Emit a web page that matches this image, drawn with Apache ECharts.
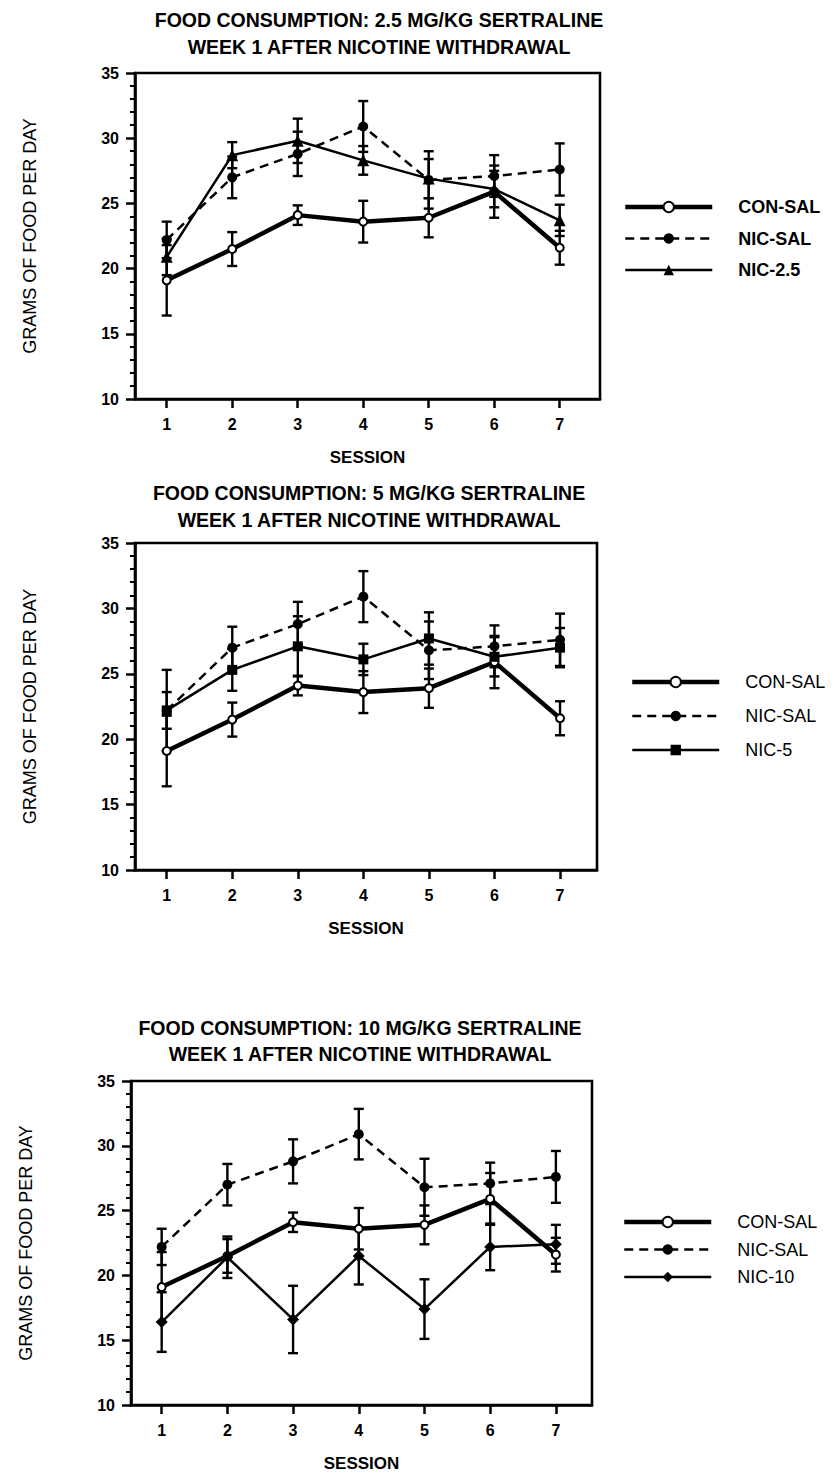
<!DOCTYPE html>
<html><head><meta charset="utf-8">
<script src="https://cdn.jsdelivr.net/npm/echarts@6/dist/echarts.min.js"></script>
<style>html,body{margin:0;padding:0;background:#fff}#c{width:834px;height:1477px}</style>
</head><body><div id="c"></div>
<script>
// ---- data ----
const sessions = [1, 2, 3, 4, 5, 6, 7];
const yTickValues = [10, 15, 20, 25, 30, 35];
const conSal    = [19.1, 21.5, 24.1, 23.6, 23.9, 25.9, 21.6];
const conSalErr = [2.7, 1.3, 0.75, 1.6, 1.5, 2.0, 1.3];
const nicSal    = [22.2, 27.0, 28.8, 30.9, 26.8, 27.1, 27.6];
const nicSalErr = [1.4, 1.6, 1.7, 1.95, 2.2, 1.6, 2.0];
const nic25     = [20.9, 28.7, 29.8, 28.3, 26.9, 26.1, 23.7];
const nic25Err  = [1.4, 1.0, 1.7, 1.1, 1.5, 1.4, 1.2];
const nic5      = [22.2, 25.3, 27.1, 26.1, 27.7, 26.3, 27.0];
const nic5Err   = [3.1, 1.6, 2.3, 1.2, 2.0, 1.5, 1.5];
const nic10     = [16.4, 21.4, 16.6, 21.5, 17.4, 22.2, 22.4];
const nic10Err  = [2.3, 1.6, 2.6, 2.2, 2.3, 1.8, 1.5];
const panelTitles = [
  'FOOD CONSUMPTION: 2.5 MG/KG SERTRALINE\nWEEK 1 AFTER NICOTINE WITHDRAWAL',
  'FOOD CONSUMPTION: 5 MG/KG SERTRALINE\nWEEK 1 AFTER NICOTINE WITHDRAWAL',
  'FOOD CONSUMPTION: 10 MG/KG SERTRALINE\nWEEK 1 AFTER NICOTINE WITHDRAWAL'
];
const groupNames = ['CON-SAL', 'NIC-SAL', 'NIC-2.5', 'NIC-5', 'NIC-10'];
const xAxisName = 'SESSION';
const yAxisName = 'GRAMS OF FOOD PER DAY';

// ---- layout / style ----
const FONT = '"Liberation Sans", Arial, Helvetica, sans-serif';
const panels = [
  { title: panelTitles[0], third: groupNames[2], vals: nic25, err: nic25Err, symbol: 'triangle', symbolSize: 12,
    grid: { left: 135, top: 73, width: 465, height: 326 }, xr: [0.516, 7.615], tc: [379, 33.5], tlh: 27,
    lg: { left: 623, top: 197, gap: 11.5, bold: true } },
  { title: panelTitles[1], third: groupNames[3], vals: nic5, err: nic5Err, symbol: 'rect', symbolSize: 10,
    grid: { left: 135, top: 543, width: 462, height: 327 }, xr: [0.516, 7.564], tc: [369, 506.5], tlh: 27,
    lg: { left: 630, top: 672, gap: 14, bold: false } },
  { title: panelTitles[2], third: groupNames[4], vals: nic10, err: nic10Err, symbol: 'diamond', symbolSize: 12,
    grid: { left: 131, top: 1081, width: 461, height: 324 }, xr: [0.533, 7.55], tc: [360, 1040.5], tlh: 26,
    lg: { left: 622, top: 1212, gap: 7.5, bold: false } }
];

function pairs(vals) { return sessions.map((s, i) => [s, vals[i]]); }
function errPairs(vals, err) { return sessions.map((s, i) => [s, vals[i] - err[i], vals[i] + err[i]]); }

function errRender(params, api) {
  const x = api.value(0), lo = api.value(1), hi = api.value(2);
  const a = api.coord([x, lo]), b = api.coord([x, hi]);
  const w = 5;
  const st = { stroke: '#000', lineWidth: 2.4, fill: null };
  return { type: 'group', children: [
    { type: 'line', shape: { x1: a[0], y1: a[1], x2: b[0], y2: b[1] }, style: st },
    { type: 'line', shape: { x1: a[0] - w, y1: a[1], x2: a[0] + w, y2: a[1] }, style: st },
    { type: 'line', shape: { x1: b[0] - w, y1: b[1], x2: b[0] + w, y2: b[1] }, style: st }
  ]};
}

const grids = [], xAxes = [], yAxes = [], series = [], legends = [], graphics = [];
panels.forEach((p, i) => {
  grids.push(Object.assign({ show: true, borderColor: '#000', borderWidth: 2.6, backgroundColor: 'transparent' }, p.grid));
  xAxes.push({
    type: 'value', gridIndex: i, min: p.xr[0], max: p.xr[1],
    name: xAxisName, nameLocation: 'middle', nameGap: 50,
    nameTextStyle: { fontFamily: FONT, fontSize: 17, fontWeight: 'bold', color: '#000' },
    axisLine: { show: true, lineStyle: { color: '#000', width: 2.6 } },
    axisTick: { show: true, customValues: sessions, length: 9, lineStyle: { color: '#000', width: 2.5 } },
    axisLabel: { customValues: sessions, margin: 17, fontFamily: FONT, fontSize: 16, fontWeight: 'bold', color: '#000' },
    splitLine: { show: false }
  });
  yAxes.push({
    type: 'value', gridIndex: i, min: 10, max: 35, interval: 5,
    name: yAxisName, nameLocation: 'middle', nameGap: 96, nameRotate: 90,
    nameTextStyle: { fontFamily: FONT, fontSize: 18, color: '#000' },
    axisLine: { show: true, lineStyle: { color: '#000', width: 2.6 } },
    axisTick: { show: true, length: 9, lineStyle: { color: '#000', width: 2.5 } },
    minorTick: { show: true, splitNumber: 5, length: 5, lineStyle: { color: '#000', width: 2 } },
    axisLabel: { margin: 16, fontFamily: FONT, fontSize: 16, fontWeight: 'bold', color: '#000' },
    splitLine: { show: false }, minorSplitLine: { show: false }
  });
  const groups = [
    { name: groupNames[0], vals: conSal, err: conSalErr, line: { color: '#000', width: 4.5, type: 'solid' },
      symbol: 'circle', symbolSize: 8, item: { color: '#fff', borderColor: '#000', borderWidth: 2 } },
    { name: groupNames[1], vals: nicSal, err: nicSalErr, line: { color: '#000', width: 2.5, type: [9, 6] },
      symbol: 'circle', symbolSize: 10, item: { color: '#000' } },
    { name: p.third, vals: p.vals, err: p.err, line: { color: '#000', width: 2.5, type: 'solid' },
      symbol: p.symbol, symbolSize: p.symbolSize, item: { color: '#000' } }
  ];
  groups.forEach(g => {
    series.push({
      type: 'custom', name: g.name + ' SEM', xAxisIndex: i, yAxisIndex: i,
      data: errPairs(g.vals, g.err), encode: { x: 0, y: [1, 2] }, renderItem: errRender, z: 2, silent: true
    });
  });
  groups.forEach(g => {
    series.push({
      type: 'line', name: g.name, xAxisIndex: i, yAxisIndex: i, data: pairs(g.vals),
      symbol: g.symbol, symbolSize: g.symbolSize, showSymbol: true,
      lineStyle: g.line, itemStyle: g.item, z: 3, silent: true
    });
  });
  legends.push({
    data: groups.map(g => ({ name: g.name, lineStyle: { width: g.line.width, type: g.line.type } })),
    orient: 'vertical', left: p.lg.left, top: p.lg.top, padding: 0,
    itemWidth: 87, itemHeight: 13, itemGap: p.lg.gap, selectedMode: false,
    textStyle: { fontFamily: FONT, fontSize: 18, fontWeight: p.lg.bold ? 'bold' : 'normal', color: '#000',
                 lineHeight: 20, padding: [0, 0, 0, 21] }
  });
  graphics.push({
    type: 'text', x: p.tc[0], y: p.tc[1],
    style: { text: p.title, fill: '#000', fontFamily: FONT, fontSize: 19.5, fontWeight: 'bold',
             align: 'center', verticalAlign: 'middle', textAlign: 'center', textVerticalAlign: 'middle', lineHeight: p.tlh }
  });
});

const chart = echarts.init(document.getElementById('c'), null, { renderer: 'svg', width: 834, height: 1477 });
chart.setOption({
  animation: false,
  backgroundColor: '#fff',
  grid: grids, xAxis: xAxes, yAxis: yAxes, series: series, legend: legends, graphic: graphics
});
</script>
</body></html>
